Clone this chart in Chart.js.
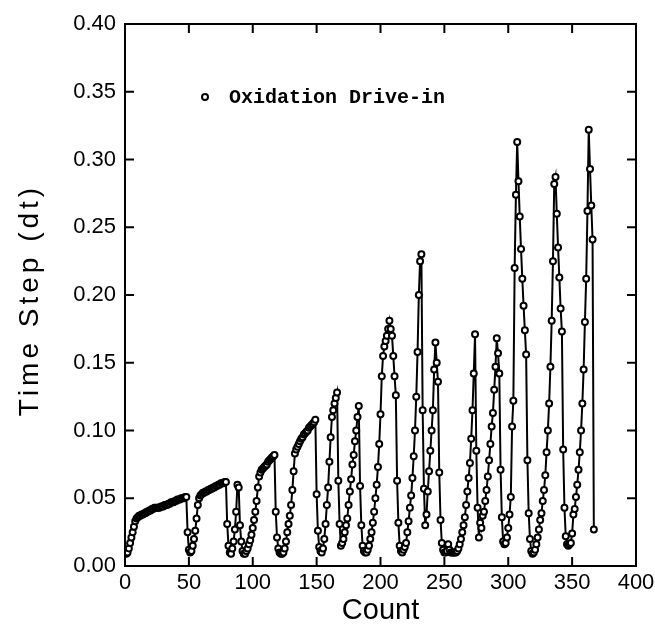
<!DOCTYPE html>
<html>
<head>
<meta charset="utf-8">
<script src="https://cdn.jsdelivr.net/npm/chart.js@4.4.0/dist/chart.umd.min.js"></script>
<style>
  html, body { margin: 0; padding: 0; background: #fff; }
  #wrap { width: 655px; height: 630px; }
</style>
</head>
<body>
<div id="wrap"><canvas id="dtChart" width="655" height="630"></canvas></div>
<script>
// data, one point per count
const firstCount = 1;
const timeStep = [
  0.009, 0.010, 0.013, 0.017, 0.021, 0.025, 0.029, 0.033, 0.035, 0.036, // 1
  0.037, 0.037, 0.038, 0.038, 0.039, 0.039, 0.040, 0.040, 0.041, 0.041,
  0.042, 0.042, 0.043, 0.043, 0.043, 0.043, 0.043, 0.044, 0.044, 0.044,
  0.045, 0.045, 0.045, 0.046, 0.046, 0.047, 0.047, 0.047, 0.048, 0.048,
  0.049, 0.049, 0.049, 0.050, 0.050, 0.050, 0.051, 0.051, 0.025, 0.012, // 41
  0.010, 0.011, 0.015, 0.020, 0.026, 0.035, 0.045, 0.050, 0.052, 0.053,
  0.054, 0.054, 0.055, 0.055, 0.056, 0.056, 0.057, 0.057, 0.058, 0.058,
  0.059, 0.059, 0.060, 0.060, 0.061, 0.061, 0.061, 0.062, 0.062, 0.031,
  0.015, 0.010, 0.009, 0.013, 0.018, 0.027, 0.040, 0.060, 0.058, 0.030, // 81
  0.018, 0.011, 0.009, 0.009, 0.011, 0.013, 0.016, 0.019, 0.023, 0.028,
  0.034, 0.040, 0.048, 0.058, 0.066, 0.069, 0.071, 0.072, 0.073, 0.074,
  0.075, 0.077, 0.078, 0.079, 0.080, 0.081, 0.082, 0.040, 0.021, 0.013,
  0.010, 0.009, 0.009, 0.010, 0.013, 0.018, 0.025, 0.031, 0.037, 0.045, // 121
  0.056, 0.070, 0.083, 0.086, 0.088, 0.090, 0.092, 0.094, 0.095, 0.097,
  0.098, 0.099, 0.100, 0.102, 0.103, 0.104, 0.105, 0.106, 0.108, 0.053,
  0.026, 0.014, 0.011, 0.010, 0.013, 0.020, 0.031, 0.045, 0.058, 0.077,
  0.095, 0.110, 0.115, 0.120, 0.124, 0.128, 0.063, 0.031, 0.015, 0.017, // 161
  0.020, 0.025, 0.030, 0.035, 0.045, 0.055, 0.064, 0.075, 0.082, 0.092,
  0.100, 0.110, 0.118, 0.059, 0.030, 0.015, 0.011, 0.010, 0.010, 0.012,
  0.015, 0.020, 0.025, 0.032, 0.040, 0.050, 0.060, 0.073, 0.090, 0.112,
  0.140, 0.155, 0.162, 0.166, 0.170, 0.175, 0.181, 0.175, 0.170, 0.155, // 201
  0.140, 0.126, 0.063, 0.032, 0.015, 0.011, 0.010, 0.012, 0.014, 0.017,
  0.025, 0.033, 0.043, 0.052, 0.065, 0.081, 0.100, 0.125, 0.158, 0.200,
  0.225, 0.230, 0.115, 0.057, 0.030, 0.038, 0.055, 0.070, 0.085, 0.100,
  0.115, 0.145, 0.165, 0.150, 0.136, 0.069, 0.034, 0.017, 0.012, 0.010, // 241
  0.010, 0.011, 0.016, 0.012, 0.010, 0.010, 0.010, 0.010, 0.010, 0.011,
  0.013, 0.016, 0.020, 0.025, 0.030, 0.036, 0.045, 0.055, 0.065, 0.076,
  0.094, 0.115, 0.142, 0.171, 0.085, 0.043, 0.021, 0.032, 0.028, 0.037,
  0.040, 0.048, 0.056, 0.066, 0.078, 0.090, 0.103, 0.113, 0.130, 0.147, // 281
  0.168, 0.157, 0.142, 0.071, 0.036, 0.018, 0.016, 0.017, 0.021, 0.028,
  0.038, 0.051, 0.103, 0.122, 0.220, 0.274, 0.313, 0.284, 0.258, 0.234,
  0.212, 0.192, 0.174, 0.156, 0.078, 0.039, 0.020, 0.011, 0.009, 0.010,
  0.012, 0.016, 0.021, 0.027, 0.034, 0.039, 0.048, 0.056, 0.067, 0.084, // 321
  0.100, 0.120, 0.147, 0.181, 0.225, 0.282, 0.287, 0.260, 0.235, 0.213,
  0.190, 0.173, 0.086, 0.043, 0.022, 0.016, 0.015, 0.016, 0.017, 0.024,
  0.038, 0.042, 0.051, 0.060, 0.071, 0.084, 0.100, 0.120, 0.145, 0.180,
  0.212, 0.262, 0.322, 0.293, 0.266, 0.241, 0.027                       // 361
];
const xTicks = [0, 50, 100, 150, 200, 250, 300, 350, 400];
const yTicks = [0, 0.05, 0.10, 0.15, 0.20, 0.25, 0.30, 0.35, 0.40];
const seriesLabel = "Oxidation Drive-in";
const xTitle = "Count";
const yTitle = "Time Step (dt)";

const points = timeStep.map((v, i) => ({ x: firstCount + i, y: v }));

// frame with inward ticks on all four sides
const frameTicks = {
  id: "frameTicks",
  afterDraw(chart) {
    const { ctx, chartArea: a, scales: { x, y } } = chart;
    const len = 9;
    ctx.save();
    ctx.strokeStyle = "#000";
    ctx.lineWidth = 2;
    ctx.strokeRect(a.left, a.top, a.right - a.left, a.bottom - a.top);
    ctx.beginPath();
    xTicks.forEach(v => {
      const px = x.getPixelForValue(v);
      ctx.moveTo(px, a.bottom); ctx.lineTo(px, a.bottom - len);
      ctx.moveTo(px, a.top); ctx.lineTo(px, a.top + len);
    });
    yTicks.forEach(v => {
      const py = y.getPixelForValue(v);
      ctx.moveTo(a.left, py); ctx.lineTo(a.left + len, py);
      ctx.moveTo(a.right, py); ctx.lineTo(a.right - len, py);
    });
    ctx.stroke();
    ctx.restore();
  }
};

// legend inside the plot, upper left; y title drawn with wide letter spacing
const labels = {
  id: "labels",
  afterDraw(chart) {
    const { ctx, chartArea: a } = chart;
    const cx = a.left + 80, cy = a.top + 73;
    ctx.save();
    ctx.beginPath();
    ctx.arc(cx, cy, 3, 0, Math.PI * 2);
    ctx.fillStyle = "#fff";
    ctx.fill();
    ctx.lineWidth = 2;
    ctx.strokeStyle = "#000";
    ctx.stroke();
    ctx.fillStyle = "#000";
    ctx.font = "bold 20px 'Liberation Mono'";
    ctx.textBaseline = "middle";
    ctx.fillText(seriesLabel, cx + 24, cy + 1);

    ctx.translate(30, 302);
    ctx.rotate(-Math.PI / 2);
    ctx.font = "28px 'Liberation Sans'";
    ctx.letterSpacing = "4px";
    ctx.textAlign = "center";
    ctx.fillText(yTitle, 2, 0);
    ctx.restore();
  }
};

new Chart(document.getElementById("dtChart"), {
  type: "line",
  data: {
    datasets: [{
      label: seriesLabel,
      data: points,
      borderColor: "#000",
      borderWidth: 2,
      backgroundColor: "#fff",
      pointRadius: 3,
      pointBorderWidth: 2,
      pointBorderColor: "#000",
      pointBackgroundColor: "#fff",
      tension: 0
    }]
  },
  options: {
    responsive: false,
    animation: false,
    layout: { padding: { top: 24, right: 19, left: 0, bottom: 0 } },
    plugins: { legend: { display: false }, tooltip: { enabled: false } },
    scales: {
      x: {
        type: "linear",
        min: 0, max: 400,
        afterBuildTicks: s => { s.ticks = xTicks.map(v => ({ value: v })); },
        afterFit: s => { s.height = 64; s.paddingLeft = 0; s.paddingRight = 0; },
        grid: { display: false, drawTicks: false },
        border: { display: false },
        ticks: {
          padding: 4, color: "#000",
          font: { family: "'Liberation Sans'", size: 22 },
          callback: v => String(v)
        },
        title: {
          display: true, text: xTitle, color: "#000",
          font: { family: "'Liberation Sans'", size: 29 },
          padding: { top: 0, bottom: 2 }
        }
      },
      y: {
        min: 0, max: 0.4,
        afterBuildTicks: s => { s.ticks = yTicks.map(v => ({ value: v })); },
        afterFit: s => { s.width = 125; },
        grid: { display: false, drawTicks: false },
        border: { display: false },
        ticks: {
          padding: 9, color: "#000",
          font: { family: "'Liberation Sans'", size: 22 },
          callback: v => Number(v).toFixed(2)
        },
        title: { display: false, text: yTitle }
      }
    }
  },
  plugins: [frameTicks, labels]
});
</script>
</body>
</html>
